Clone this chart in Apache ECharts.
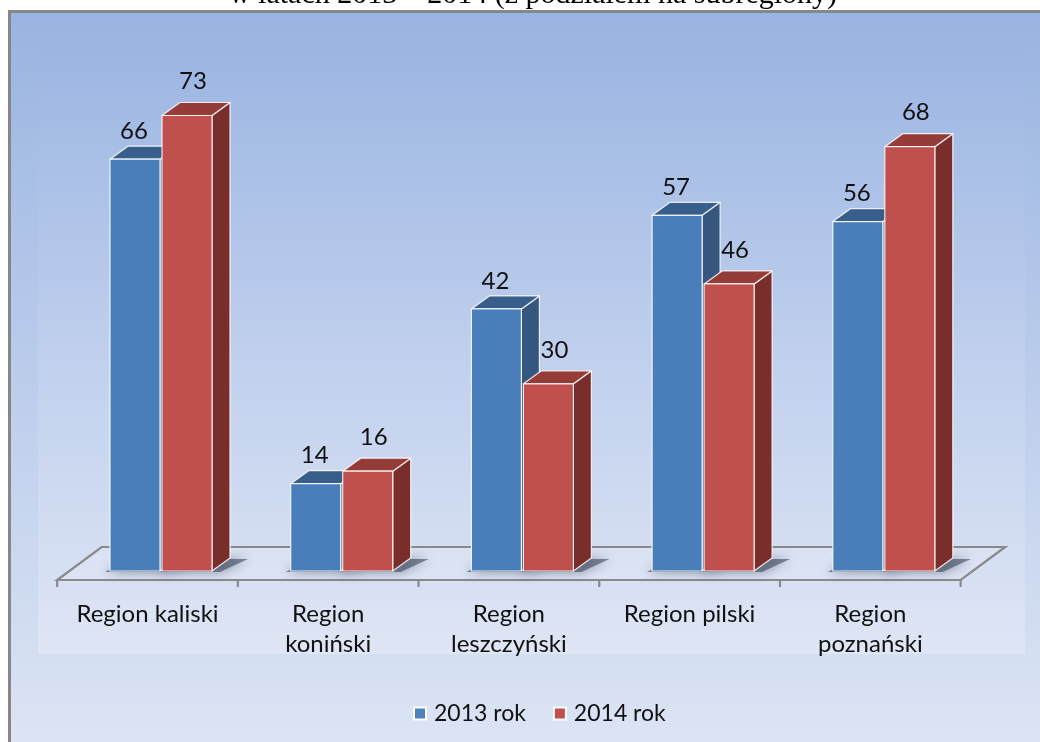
<!DOCTYPE html>
<html><head><meta charset="utf-8">
<script src="https://cdn.jsdelivr.net/npm/echarts@6/dist/echarts.min.js"></script>
<style>html,body{margin:0;padding:0;background:#fff}#c{width:1040px;height:742px}</style>
</head><body><div id="c"></div>
<script>
const categories = ['Region kaliski', 'Region\nkoniński', 'Region\nleszczyński', 'Region pilski', 'Region\npoznański'];
const values2013 = [66, 14, 42, 57, 56];
const values2014 = [73, 16, 30, 46, 68];
const seriesNames = ['2013 rok', '2014 rok'];
const titleText = 'w latach 2013 – 2014 (z podziałem na subregiony)';

const BAR_FRAC = 50 / 180.7, GAP_FRAC = 2 / 180.7;
const DX = 18, DY = 13;
const FONT = 'Lato';

function barRender(side, cFront, cTop, cSide, z, lblDx, lblDy) {
  return function (params, api) {
    const idx = api.value(0), v = api.value(1);
    const top = api.coord([idx, v]);
    const base = api.coord([idx, 0]);
    const band = api.size([1, 0])[0];
    const w = band * BAR_FRAC, gap = band * GAP_FRAC;
    const x0 = side < 0 ? top[0] - gap / 2 - w : top[0] + gap / 2;
    const x1 = x0 + w, yT = top[1], yB = base[1];
    const edge = { stroke: 'rgba(255,255,255,0.85)', lineWidth: 1.2, lineJoin: 'round' };
    return {
      type: 'group',
      children: [
        { type: 'polygon', z2: 1, silent: true,
          shape: { points: [[x0 - 5, yB + 1], [x1 + 8, yB + 1], [x1 + DX + 18, yB - DY + 1], [x0 + DX, yB - DY + 1]] },
          style: { fill: 'rgba(60,70,90,0.6)', shadowBlur: 12, shadowColor: 'rgba(40,50,70,0.8)' } },
        { type: 'polygon', z2: z,
          shape: { points: [[x1, yT], [x1 + DX, yT - DY], [x1 + DX, yB - DY], [x1, yB]] },
          style: Object.assign({ fill: cSide }, edge) },
        { type: 'polygon', z2: z,
          shape: { points: [[x0, yT], [x1, yT], [x1 + DX, yT - DY], [x0 + DX, yT - DY]] },
          style: Object.assign({ fill: cTop }, edge) },
        { type: 'rect', z2: z,
          shape: { x: x0, y: yT, width: w, height: yB - yT },
          style: Object.assign({ fill: cFront }, edge) },
        { type: 'text', z2: z + 1,
          style: { text: String(v), x: (x0 + x1) / 2 + lblDx, y: yT - DY + lblDy,
            align: 'center', verticalAlign: 'middle', fill: '#111',
            font: '24px ' + FONT } }
      ]
    };
  };
}

function floorRender(params, api) {
  const cs = params.coordSys;
  const i = api.value(0);
  const c = api.coord([i, 0]);
  const band = api.size([1, 0])[0];
  const y0 = c[1];
  const fx = -13.5, fy = 9, bx = 31, by = -24;
  const line = { stroke: '#8a8a8a', lineWidth: 2.2 };
  const children = [];
  if (params.dataIndex === 0) {
    children.push({ type: 'polygon', z2: 0, silent: true,
      shape: { points: [[cs.x + fx, y0 + fy], [cs.x + cs.width + fx, y0 + fy], [cs.x + cs.width + bx, y0 + by], [cs.x + bx, y0 + by]] },
      style: Object.assign({ fill: 'rgba(255,255,255,0.12)' }, line) });
  }
  const lx = c[0] - band / 2 + fx;
  children.push({ type: 'line', z2: 0, silent: true, shape: { x1: lx, y1: y0 + fy, x2: lx, y2: y0 + fy + 7 }, style: line });
  if (params.dataIndex === categories.length - 1) {
    const rx = c[0] + band / 2 + fx;
    children.push({ type: 'line', z2: 0, silent: true, shape: { x1: rx, y1: y0 + fy, x2: rx, y2: y0 + fy + 7 }, style: line });
  }
  return { type: 'group', children };
}

const chart = echarts.init(document.getElementById('c'), null, { renderer: 'canvas' });
const gridTop = 571 - 80 * 6.24;
chart.setOption({
  animation: false,
  graphic: [
    { type: 'rect', z: -10, silent: true,
      shape: { x: 9.5, y: 11.5, width: 1040, height: 740 },
      style: { fill: new echarts.graphic.LinearGradient(0, 0, 0, 1, [
        { offset: 0, color: '#99b4e1' }, { offset: 0.5, color: '#bccdec' }, { offset: 1, color: '#dde5f4' }]),
        stroke: '#878787', lineWidth: 3 } },
    { type: 'rect', z: -9, silent: true,
      shape: { x: 38, y: 42, width: 987, height: 612 },
      style: { fill: new echarts.graphic.LinearGradient(0, 0, 0, 1, [
        { offset: 0, color: '#9bb5e2' }, { offset: 0.5, color: '#bfcfed' }, { offset: 1, color: '#dfe6f5' }]) } },
    { type: 'text', z: -11, silent: true,
      style: { text: titleText, x: 533, y: 10, align: 'center', verticalAlign: 'bottom',
        font: '30px "Liberation Serif"', fill: '#000' } }
  ],
  grid: { left: 70.65, width: 903.5, top: gridTop, height: 571 - gridTop },
  legend: {
    data: seriesNames, left: 408, top: 697, itemWidth: 12, itemHeight: 12, itemGap: 27,
    icon: 'rect',
    textStyle: { fontFamily: FONT, fontSize: 23, color: '#111', padding: [0, 0, 0, 3] }
  },
  xAxis: {
    type: 'category', data: categories,
    axisLine: { show: false }, axisTick: { show: false }, splitLine: { show: false },
    axisLabel: { interval: 0, margin: 28, fontFamily: FONT, fontSize: 24, color: '#111',
      lineHeight: 30, padding: [0, 27, 0, 0] }
  },
  yAxis: { type: 'value', min: 0, max: 80, show: false, splitLine: { show: false } },
  series: [
    { type: 'custom', name: 'floor', z: 2, silent: true, renderItem: floorRender,
      data: categories.map((c, i) => [i, 0]), encode: { x: 0, y: 1 } },
    { type: 'custom', name: seriesNames[0], z: 2,
      itemStyle: { color: '#4f81bd', borderColor: '#fff', borderWidth: 1 },
      renderItem: barRender(-1, '#4a7ebb', '#385e8b', '#34567f', 10, -1, -15),
      data: values2013.map((v, i) => [i, v]), encode: { x: 0, y: 1 } },
    { type: 'custom', name: seriesNames[1], z: 2,
      itemStyle: { color: '#c0504d', borderColor: '#fff', borderWidth: 1 },
      renderItem: barRender(1, '#c0504d', '#953c39', '#7a2e2c', 20, 6, -21),
      data: values2014.map((v, i) => [i, v]), encode: { x: 0, y: 1 } }
  ]
});
</script></body></html>
